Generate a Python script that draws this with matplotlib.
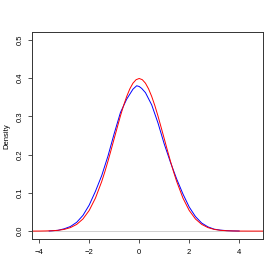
import numpy as np
import matplotlib.pyplot as plt

# red: reference normal density
red_x = [-4.28, -4.0, -3.75, -3.5, -3.25, -3.0, -2.75, -2.5, -2.25, -2.0, -1.75, -1.5,
         -1.375, -1.25, -1.125, -1.0, -0.875, -0.75, -0.625, -0.5, -0.375, -0.25, -0.125,
         0.0, 0.125, 0.25, 0.375, 0.5, 0.625, 0.75, 0.875, 1.0, 1.125, 1.25, 1.375, 1.5,
         1.75, 2.0, 2.25, 2.5, 2.75, 3.0, 3.25, 3.5, 3.75, 4.0, 4.5, 4.96]
red_y = [0.0000, 0.0001, 0.0004, 0.0009, 0.0020, 0.0044, 0.0091, 0.0175, 0.0317, 0.054,
         0.0863, 0.1295, 0.1549, 0.1826, 0.2119, 0.242, 0.2717, 0.3011, 0.3282, 0.352,
         0.3718, 0.3867, 0.3958, 0.399, 0.3958, 0.3867, 0.3718, 0.352, 0.3282, 0.3011,
         0.2717, 0.242, 0.2119, 0.1826, 0.1549, 0.1295, 0.0863, 0.054, 0.0317, 0.0175,
         0.0091, 0.0044, 0.0020, 0.0009, 0.0004, 0.0001, 0.0000, 0.0000]

# blue: sample kernel density
blue_x = [-3.6, -3.25, -3.0, -2.75, -2.5, -2.25, -2.0, -1.75, -1.5, -1.25, -1.0, -0.75,
          -0.5, -0.25, -0.1, 0.0, 0.1, 0.25, 0.5, 0.75, 1.0, 1.25, 1.5, 1.75, 2.0, 2.25,
          2.5, 2.75, 3.0, 3.25, 3.5, 3.75, 4.0]
blue_y = [0.0003, 0.002, 0.006, 0.012, 0.023, 0.041, 0.068, 0.104, 0.145, 0.196, 0.255,
          0.310, 0.345, 0.371, 0.380, 0.378, 0.373, 0.362, 0.330, 0.283, 0.228, 0.180,
          0.136, 0.097, 0.063, 0.038, 0.021, 0.011, 0.005, 0.0025, 0.0012, 0.0005, 0.0002]

plt.rcParams['font.family'] = ['Liberation Sans', 'DejaVu Sans']

fig = plt.figure(figsize=(2.8, 2.8), dpi=100)
ax = fig.add_axes([0.115, 0.146, 0.825, 0.739])

ax.axhline(0, color="#d0d0d0", lw=0.7)
ax.plot(blue_x, blue_y, color="blue", lw=0.7)
ax.plot(red_x, red_y, color="red", lw=0.7)

ax.set_xlim(-4.28, 4.96)
ax.set_ylim(-0.021, 0.52)
ax.set_xticks([-4, -2, 0, 2, 4])
ax.set_xticklabels(["\u22124", "\u22122", "0", "2", "4"])
ax.set_yticks([0.0, 0.1, 0.2, 0.3, 0.4, 0.5])
ax.set_yticklabels(["0.0", "0.1", "0.2", "0.3", "0.4", "0.5"], rotation=90, va="center")
ax.tick_params(labelsize=5.5, length=3, width=0.6, color="#333333")
ax.tick_params(axis="x", pad=4)
ax.tick_params(axis="y", pad=3)
for s in ax.spines.values():
    s.set_linewidth(0.7)
    s.set_color("#333333")
ax.set_ylabel("Density", fontsize=5.5, labelpad=5)

fig.savefig("out.png", dpi=100)
